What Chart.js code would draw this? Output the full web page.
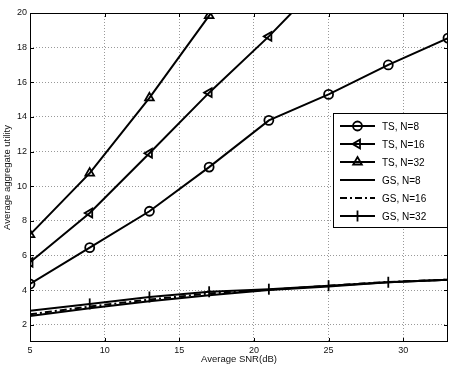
<!DOCTYPE html>
<html><head><meta charset="utf-8">
<script src="https://cdn.jsdelivr.net/npm/chart.js@4"></script>
<style>html,body{margin:0;padding:0;background:#fff}#c{display:block}</style>
</head><body>
<canvas id="c" width="457" height="370"></canvas>
<script>
const snr = [5, 9, 13, 17, 21, 25, 29, 33];
const tsN8 = [4.35, 6.45, 8.55, 11.1, 13.8, 15.3, 17.0, 18.55];
const tsN16 = [5.6, 8.45, 11.9, 15.4, 18.65, 22.2, 25.6, 29.0];
const tsN32 = [7.2, 10.75, 15.1, 19.85, 24.6, 29.4, 34.2, 39.0];
const gsN8 = [2.5, 2.95, 3.35, 3.7, 4.0, 4.2, 4.45, 4.6];
const gsN16 = [2.6, 3.05, 3.45, 3.8, 4.02, 4.25, 4.47, 4.6];
const gsN32 = [2.8, 3.2, 3.6, 3.9, 4.05, 4.25, 4.45, 4.6];
const xTicks = [5, 10, 15, 20, 25, 30];
const yTicks = [2, 4, 6, 8, 10, 12, 14, 16, 18, 20];
const seriesNames = ['TS, N=8', 'TS, N=16', 'TS, N=32', 'GS, N=8', 'GS, N=16', 'GS, N=32'];

const FONT = 'Liberation Sans, Arial, sans-serif';
const pts = arr => snr.map((x, i) => ({x, y: arr[i]}));
function ds(label, data, style, rot, dash, r) {
  return {label, data: pts(data), borderColor:'#000', backgroundColor:'rgba(0,0,0,0)', borderWidth:2,
    pointStyle: style, pointRotation: rot, pointRadius: r, pointBorderWidth: 1.8,
    pointBackgroundColor:'rgba(0,0,0,0)', pointBorderColor:'#000', borderDash: dash, tension:0, clip: 0};
}
const datasets = [
  ds(seriesNames[0], tsN8, 'circle', 0, [], 4.5),
  ds(seriesNames[1], tsN16, 'triangle', -90, [], 5),
  ds(seriesNames[2], tsN32, 'triangle', 0, [], 5),
  ds(seriesNames[3], gsN8, 'circle', 0, [], 0),
  ds(seriesNames[4], gsN16, 'circle', 0, [7,3,2,3], 0),
  ds(seriesNames[5], gsN32, 'line', 90, [], 5.5),
];

const framePlugin = {
  id: 'frame',
  afterDatasetsDraw(chart) {
    const {ctx, chartArea: a, scales: {x, y}} = chart;
    ctx.save();
    ctx.setLineDash([]);
    ctx.strokeStyle = '#000'; ctx.lineWidth = 1;
    ctx.strokeRect(a.left + 0.5, a.top + 0.5, a.right - a.left - 1, a.bottom - a.top - 1);
    ctx.beginPath();
    xTicks.forEach(v => { const px = Math.round(x.getPixelForValue(v)) + 0.5;
      ctx.moveTo(px, a.bottom); ctx.lineTo(px, a.bottom - 4);
      ctx.moveTo(px, a.top); ctx.lineTo(px, a.top + 4); });
    yTicks.forEach(v => { const py = Math.round(y.getPixelForValue(v)) + 0.5;
      ctx.moveTo(a.left, py); ctx.lineTo(a.left + 4, py);
      ctx.moveTo(a.right, py); ctx.lineTo(a.right - 4, py); });
    ctx.stroke();
    // legend
    const L = 333, T = 113, R = 447, B = 227;
    ctx.fillStyle = '#fff';
    ctx.fillRect(L, T, R - L, B - T);
    ctx.strokeRect(L + 0.5, T + 0.5, R - L, B - T);
    ctx.font = '10px ' + FONT; ctx.textBaseline = 'middle'; ctx.fillStyle = '#000';
    chart.data.datasets.forEach((d, i) => {
      const yy = 126 + i * 18;
      ctx.save();
      ctx.lineWidth = 2; ctx.setLineDash(d.borderDash || []);
      ctx.beginPath(); ctx.moveTo(340, yy); ctx.lineTo(375, yy); ctx.stroke();
      ctx.restore();
      if (d.pointRadius > 0) {
        ctx.save(); ctx.lineWidth = 1.8; ctx.strokeStyle = '#000'; ctx.fillStyle = 'rgba(0,0,0,0)';
        Chart.helpers.drawPoint(ctx, {pointStyle: d.pointStyle, rotation: d.pointRotation, radius: d.pointRadius, borderWidth: 1.8}, 357.5, yy);
        ctx.restore();
      }
      ctx.fillText(d.label, 382, yy + 1);
    });
    ctx.restore();
  }
};

const gridOpts = {color: '#999', lineWidth: 1, drawTicks: false, tickLength: 0};
new Chart(document.getElementById('c'), {
  type: 'line',
  data: {datasets},
  options: {
    responsive: false, animation: false, devicePixelRatio: 1,
    layout: {padding: {left: 2, right: 9, top: 13, bottom: 0}},
    plugins: {legend: {display: false}, tooltip: {enabled: false}},
    scales: {
      x: {type: 'linear', min: 5, max: 33,
        afterBuildTicks: s => { s.ticks = xTicks.map(v => ({value: v})); },
        afterFit: s => { s.height = 28; },
        grid: gridOpts,
        border: {display: false, dash: [1, 2]},
        ticks: {font: {size: 9, family: FONT}, color: '#111', padding: 3, maxRotation: 0},
        title: {display: true, text: 'Average SNR(dB)', font: {size: 9.5, family: FONT}, color: '#111', padding: {top: 0, bottom: 5}}},
      y: {type: 'linear', min: 1, max: 20,
        afterBuildTicks: s => { s.ticks = yTicks.map(v => ({value: v})); },
        afterFit: s => { s.width = 28; },
        grid: gridOpts,
        border: {display: false, dash: [1, 2]},
        ticks: {font: {size: 9, family: FONT}, color: '#111', padding: 3},
        title: {display: true, text: 'Average aggregate utility', font: {size: 9.5, family: FONT}, color: '#111', padding: {top: 0, bottom: 0}}}
    }
  },
  plugins: [framePlugin]
});
</script>
</body></html>
